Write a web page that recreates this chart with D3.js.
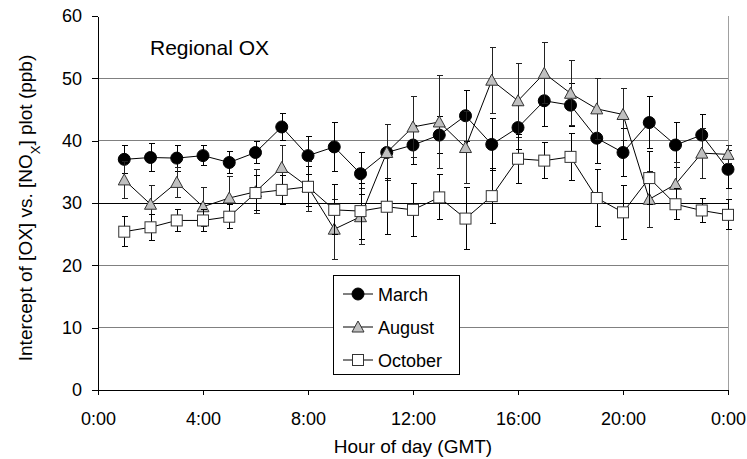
<!DOCTYPE html>
<html>
<head>
<meta charset="utf-8">
<script src="https://cdn.jsdelivr.net/npm/d3@7"></script>
<style>
  body { margin: 0; background: #fff; }
  text { font-family: "Liberation Sans", Arial, sans-serif; fill: #000; }
</style>
</head>
<body>
<svg id="chart"></svg>
<script>
'use strict';

// data: hour of day 1..24, mean and error bar half-width
var hours = [1,2,3,4,5,6,7,8,9,10,11,12,13,14,15,16,17,18,19,20,21,22,23,24];

var marchVals = [37.0,37.3,37.2,37.6,36.5,38.1,42.2,37.6,39.0,34.7,38.1,39.3,40.9,44.0,39.4,42.1,46.4,45.7,40.4,38.1,42.9,39.3,40.9,35.4];
var marchErr  = [2.3,2.2,2.1,1.6,1.8,1.8,2.1,3.0,3.9,3.4,4.5,3.2,2.9,4.1,4.2,3.5,4.2,3.4,4.0,3.9,4.2,3.6,3.3,3.0];

var augustVals = [33.7,29.8,33.3,29.4,30.8,31.8,35.7,32.6,25.8,27.8,38.1,42.2,43.0,38.9,49.7,46.4,50.8,47.6,45.1,44.2,30.6,33.0,38.0,37.8];
var augustErr  = [3.0,3.0,2.4,3.1,3.5,3.5,3.6,4.0,4.8,4.5,4.5,4.9,7.5,5.7,5.3,5.9,4.9,5.2,4.9,4.2,4.5,3.5,4.0,1.5];

var octoberVals = [25.4,26.1,27.2,27.2,27.8,31.6,32.1,32.6,28.9,28.7,29.4,28.9,30.9,27.5,31.1,37.1,36.8,37.4,30.8,28.5,34.0,29.8,28.8,28.1];
var octoberErr  = [2.4,2.1,1.8,1.8,1.9,2.8,2.3,3.2,4.0,4.5,4.5,4.2,3.6,5.0,4.4,3.9,2.9,3.8,4.5,4.3,4.3,2.5,1.9,2.4];

var xTicks = [0,4,8,12,16,20,24];
var xTickLabels = ['0:00','4:00','8:00','12:00','16:00','20:00','0:00'];
var yTicks = [0,10,20,30,40,50,60];

// size
var W = 747, H = 459;
var margin = { top: 16, right: 19, bottom: 69, left: 98 };
var width  = W - margin.left - margin.right;
var height = H - margin.top - margin.bottom;

var svg = d3.select('#chart').attr('width', W).attr('height', H);
var g = svg.append('g').attr('transform', 'translate(' + margin.left + ',' + margin.top + ')');

var x = d3.scaleLinear().domain([0, 24]).range([0, width]);
var y = d3.scaleLinear().domain([0, 60]).range([height, 0]);

// grid lines
g.selectAll('.grid').data([10,20,30,40,50]).enter().append('line')
  .attr('x1', 0).attr('x2', width)
  .attr('y1', function(d){ return y(d); }).attr('y2', function(d){ return y(d); })
  .attr('stroke', function(d){ return d === 30 ? '#000' : '#808080'; })
  .attr('stroke-width', 1)
  .attr('shape-rendering', 'crispEdges');

// right border
g.append('line')
  .attr('x1', width).attr('x2', width).attr('y1', 0).attr('y2', height)
  .attr('stroke', '#a0a0a0').attr('shape-rendering', 'crispEdges');

// axes
var xAxis = g.append('g')
  .attr('transform', 'translate(0,' + height + ')')
  .call(d3.axisBottom(x).tickValues(xTicks)
    .tickFormat(function(d, i){ return xTickLabels[i]; })
    .tickSize(5).tickSizeOuter(0).tickPadding(17));
var yAxis = g.append('g')
  .call(d3.axisLeft(y).tickValues(yTicks).tickSize(6).tickSizeOuter(0).tickPadding(10));

[xAxis, yAxis].forEach(function(a){
  a.select('.domain').attr('stroke', '#000').attr('shape-rendering', 'crispEdges');
  a.selectAll('.tick line').attr('stroke', '#000').attr('shape-rendering', 'crispEdges');
  a.selectAll('.tick text').attr('font-size', 18).attr('font-family', '"Liberation Sans", Arial, sans-serif').attr('fill', '#000');
});

// series
var series = [
  { name: 'March',   vals: marchVals,   err: marchErr,   shape: 'circle',   fill: '#000', stroke: '#000', errColor: '#000' },
  { name: 'August',  vals: augustVals,  err: augustErr,  shape: 'triangle', fill: '#c0c0c0', stroke: '#333', errColor: '#222' },
  { name: 'October', vals: octoberVals, err: octoberErr, shape: 'square',   fill: '#fff', stroke: '#333', errColor: '#000' }
];

function marker(sel, s){
  if (s.shape === 'circle') {
    sel.append('circle').attr('r', 6).attr('fill', s.fill).attr('stroke', s.stroke);
  } else if (s.shape === 'triangle') {
    sel.append('path').attr('d', 'M0,-6L6,5L-6,5Z').attr('fill', s.fill).attr('stroke', s.stroke);
  } else {
    sel.append('rect').attr('x', -5.5).attr('y', -5.5).attr('width', 11).attr('height', 11)
      .attr('fill', s.fill).attr('stroke', s.stroke);
  }
}

var line = d3.line()
  .x(function(d){ return x(d.h); })
  .y(function(d){ return y(d.v); });

series.forEach(function(s){
  var pts = hours.map(function(h, i){ return { h: h, v: s.vals[i], e: s.err[i] }; });

  // error bars
  var eb = g.append('g').attr('stroke', s.errColor).attr('stroke-width', 1).attr('shape-rendering', 'crispEdges');
  pts.forEach(function(d){
    var cx = Math.round(x(d.h)) + 0.5;
    var yt = y(d.v + d.e), yb = y(d.v - d.e);
    eb.append('line').attr('x1', cx).attr('x2', cx).attr('y1', yt).attr('y2', yb);
    eb.append('line').attr('x1', cx - 3).attr('x2', cx + 3).attr('y1', yt).attr('y2', yt);
    eb.append('line').attr('x1', cx - 3).attr('x2', cx + 3).attr('y1', yb).attr('y2', yb);
  });

  g.append('path').datum(pts)
    .attr('fill', 'none').attr('stroke', '#000').attr('stroke-width', 1).attr('d', line);

  g.append('g').selectAll('g').data(pts).enter().append('g')
    .attr('transform', function(d){ return 'translate(' + x(d.h) + ',' + y(d.v) + ')'; })
    .each(function(){ marker(d3.select(this), s); });
});

// titles
svg.append('text').attr('x', 150).attr('y', 55).attr('font-size', 21).text('Regional OX');

svg.append('text')
  .attr('x', 413).attr('y', 453).attr('text-anchor', 'middle').attr('font-size', 19)
  .text('Hour of day (GMT)');

var yt = svg.append('text')
  .attr('transform', 'translate(32,208) rotate(-90)')
  .attr('text-anchor', 'middle').attr('font-size', 19);
yt.append('tspan').text('Intercept of [OX] vs. [NO');
yt.append('tspan').attr('font-size', 13).attr('baseline-shift', 'sub').text('X');
yt.append('tspan').text('] plot (ppb)');

// legend
var leg = svg.append('g');
leg.append('rect').attr('x', 333.5).attr('y', 275.5).attr('width', 126).attr('height', 99)
  .attr('fill', '#fff').attr('stroke', '#000');
var legY = [294, 327, 360];
series.forEach(function(s, i){
  var row = leg.append('g').attr('transform', 'translate(0,' + legY[i] + ')');
  row.append('line').attr('x1', 343).attr('x2', 373).attr('y1', 0).attr('y2', 0).attr('stroke', '#000');
  var m = row.append('g').attr('transform', 'translate(358,0)');
  marker(m, s);
  row.append('text').attr('x', 378).attr('y', 6.5).attr('font-size', 18).text(s.name);
});
</script>
</body>
</html>
